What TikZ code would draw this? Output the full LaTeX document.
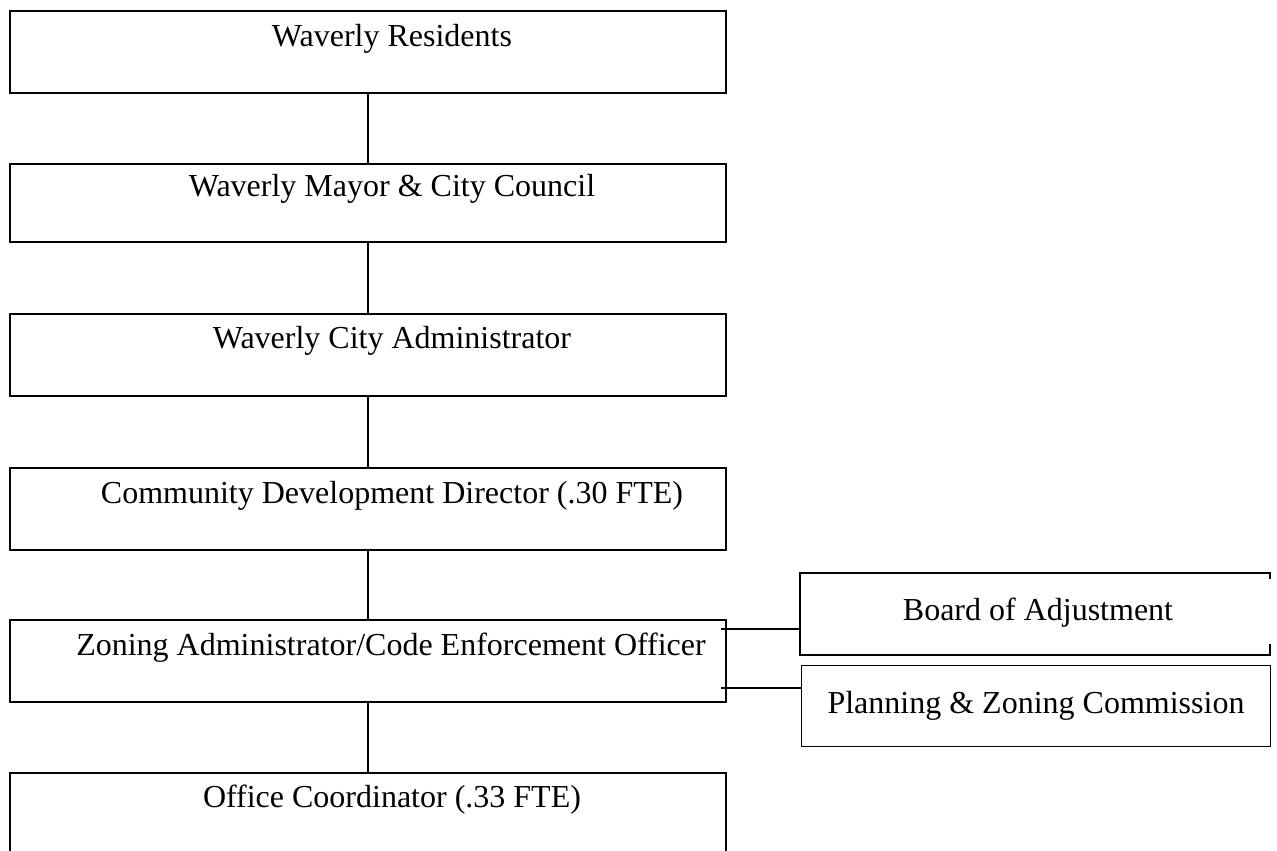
\documentclass[tikz,border=0pt]{standalone}
\usepackage{fontspec}
\setmainfont{Liberation Serif}
\tikzset{
    orgbox/.style={draw, line width=0.8pt, inner sep=0pt, minimum width=358pt, minimum height=41pt, anchor=north},
    sidebox/.style={inner sep=0pt, minimum width=234.5pt, minimum height=40.5pt, anchor=north west},
    tag/.style={anchor=base, inner sep=0pt, font=\fontsize{16}{19}\selectfont},
    link/.style={line width=0.8pt}
}
\begin{document}
\begin{tikzpicture}[x=0.5pt,y=-0.5pt]
        \useasboundingbox (0,0) rectangle (1277,850);
        % boxes
        \node[orgbox] (res) at (368,10) {};
        \node[orgbox, minimum height=39pt] (may) at (368,163) {};
        \node[orgbox] (adm) at (368,313) {};
        \node[orgbox] (cdd) at (368,467) {};
        \node[orgbox] (zon) at (368,619) {};
        \node[orgbox] (off) at (368,772) {};
        \node[sidebox] (boa) at (800,573) {};
        \node[sidebox, draw, line width=0.6pt] (pzc) at (801,665) {};
        % right side of the board box is only drawn at the corners
        \draw[link] ([yshift=-3pt]boa.north east) -- (boa.north east) -- (boa.north west)
            -- (boa.south west) -- (boa.south east) -- ([yshift=5.5pt]boa.south east);

        % lines
        \draw[link] (res.south) -- (may.north);
        \draw[link] (may.south) -- (adm.north);
        \draw[link] (adm.south) -- (cdd.north);
        \draw[link] (cdd.south) -- (zon.north);
        \draw[link] (zon.south) -- (off.north);
        \coordinate (zb) at (721,629);
        \coordinate (zp) at (721,688);
        \draw[link] (zb) -- (boa.west |- zb);
        \draw[link] (zp) -- (pzc.west |- zp);

        % text
        \node[tag] (tres) at (392,47) {Waverly Residents};
        \node[tag] (tmay) at (392,197) {Waverly Mayor \& City Council};
        \node[tag] (tadm) at (392,348) {Waverly City Administrator};
        \node[tag] (tcdd) at (392,503) {Community Development Director (.30 FTE)};
        \node[tag] (tzon) at (391,655) {Zoning Administrator/Code Enforcement Officer};
        \node[tag] (toff) at (392,807) {Office Coordinator (.33 FTE)};
        \node[tag] (tboa) at (1038,620) {Board of Adjustment};
        \node[tag] (tpzc) at (1036,713) {Planning \& Zoning Commission};
    \end{tikzpicture}
\end{document}
